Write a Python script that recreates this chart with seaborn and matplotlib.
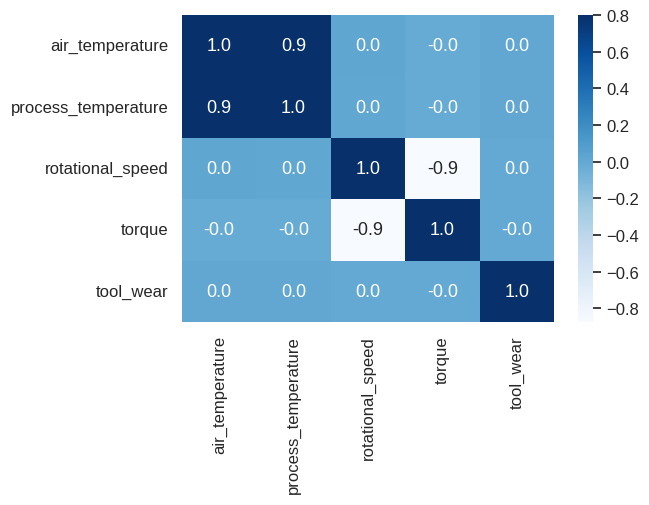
import numpy as np
import pandas as pd
import seaborn as sns
import matplotlib
matplotlib.use("Agg")
import matplotlib.pyplot as plt

labels = ["air_temperature", "process_temperature", "rotational_speed", "torque", "tool_wear"]
air_temperature = [1.0, 0.876, 0.023, -0.014, 0.013]
process_temperature = [0.876, 1.0, 0.019, -0.014, 0.013]
rotational_speed = [0.023, 0.019, 1.0, -0.875, 0.000]
torque = [-0.014, -0.014, -0.875, 1.0, -0.003]
tool_wear = [0.013, 0.013, 0.000, -0.003, 1.0]

corr = pd.DataFrame([air_temperature, process_temperature, rotational_speed, torque, tool_wear],
                    index=labels, columns=labels)

sns.set_theme()
plt.rcParams['font.family'] = ['Liberation Sans', 'DejaVu Sans']
plt.rcParams['xtick.labelsize'] = 12
plt.rcParams['ytick.labelsize'] = 12
fig = plt.figure(figsize=(6.49, 5.06), dpi=100)
ax = fig.add_axes([182/649, (506-323)/506, 372/649, 307/506])
cax = fig.add_axes([578/649, (506-323)/506, 15/649, 307/506])
sns.heatmap(corr, annot=True, fmt=".1f", cmap="Blues", vmax=0.8, ax=ax, cbar_ax=cax,
            annot_kws={"size": 13})
ax.set_xlabel("")
ax.set_ylabel("")
fig.savefig("out.png", dpi=100)
